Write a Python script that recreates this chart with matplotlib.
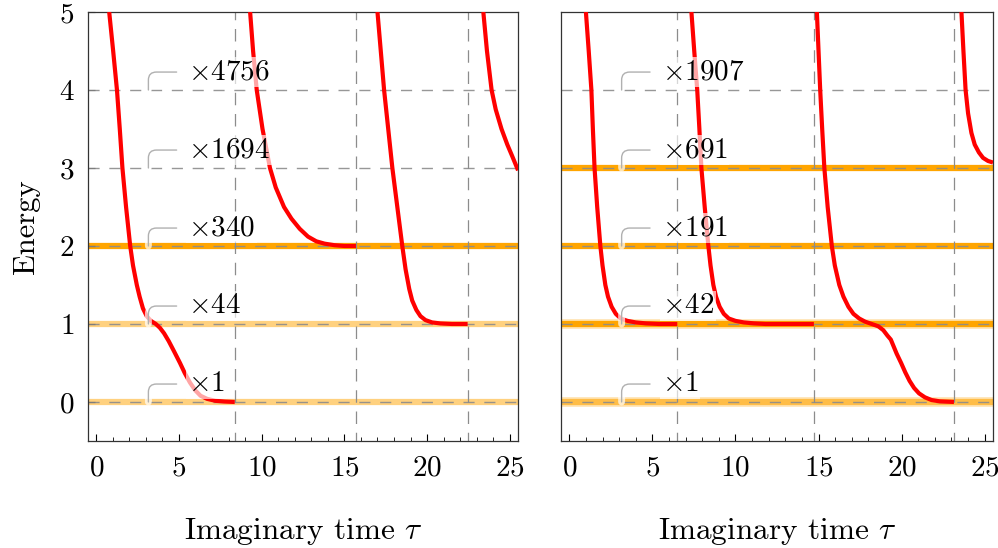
import matplotlib.pyplot as plt
import matplotlib.patheffects as pe
from matplotlib.ticker import MultipleLocator

plt.rcParams['font.family'] = 'serif'
plt.rcParams['font.serif'] = ['cmr10']
plt.rcParams['mathtext.fontset'] = 'cm'
plt.rcParams['axes.formatter.use_mathtext'] = True
plt.rcParams['font.size'] = 21

# energy levels with their degeneracy labels
levels = [0, 1, 2, 3, 4]
left_counts = [1, 44, 340, 1694, 4756]
right_counts = [1, 42, 191, 691, 1907]

# occupied bands (level, opacity)
left_band_levels = [0, 1, 2]
left_band_alpha = [0.5, 0.5, 1.0]
right_band_levels = [0, 1, 2, 3]
right_band_alpha = [0.6, 1.0, 1.0, 1.0]
right_band_halo = [0, 1]

# restarts in imaginary time
left_restarts = [8.37, 15.7, 22.45]
right_restarts = [6.5, 14.72, 23.15]

# energy vs imaginary time, one list per segment
left_tau = [
    [0.78, 1.02, 1.25, 1.42, 1.58, 1.8, 2.05, 2.22, 2.45, 2.62, 2.82, 3.05, 3.3, 3.6, 3.85, 4.1,
     4.38, 4.7, 5.06, 5.35, 5.66, 5.98, 6.3, 6.7, 7.2, 7.8, 8.37],
    [9.3, 9.48, 9.7, 10.05, 10.5, 10.85, 11.35, 11.8, 12.3, 12.8, 13.3, 13.8, 14.4, 15.0, 15.7],
    [17.0, 17.2, 17.4, 17.65, 17.9, 18.2, 18.5, 18.7, 18.92, 19.1, 19.35, 19.6, 19.9, 20.3, 20.8, 21.5, 22.45],
    [23.4, 23.62, 23.9, 24.15, 24.5, 24.85, 25.15, 25.5],
]
left_E = [
    [5.0, 4.5, 4.0, 3.5, 3.0, 2.5, 2.0, 1.75, 1.5, 1.35, 1.2, 1.1, 1.04, 1.0, 0.95, 0.88,
     0.78, 0.65, 0.5, 0.37, 0.25, 0.15, 0.08, 0.04, 0.015, 0.005, 0.0],
    [5.0, 4.5, 4.0, 3.5, 3.0, 2.75, 2.5, 2.35, 2.22, 2.12, 2.06, 2.03, 2.01, 2.0, 2.0],
    [5.0, 4.5, 4.0, 3.5, 3.0, 2.5, 2.0, 1.7, 1.45, 1.3, 1.18, 1.1, 1.05, 1.02, 1.007, 1.0, 1.0],
    [5.0, 4.5, 4.0, 3.75, 3.5, 3.3, 3.15, 2.97],
]
right_tau = [
    [1.0, 1.17, 1.33, 1.42, 1.52, 1.68, 1.87, 2.0, 2.17, 2.33, 2.55, 2.8, 3.1, 3.5, 4.0, 4.6, 5.4, 6.5],
    [7.35, 7.52, 7.7, 7.83, 7.95, 8.15, 8.37, 8.5, 8.67, 8.83, 9.05, 9.3, 9.6, 10.0, 10.5, 11.1, 11.8, 14.72],
    [14.9, 15.0, 15.1, 15.22, 15.35, 15.55, 15.8, 15.98, 16.25, 16.5, 16.8, 17.1, 17.45, 17.8, 18.2,
     18.6, 18.9, 19.15, 19.35, 19.7, 19.97, 20.22, 20.48, 20.75, 21.05, 21.4, 21.8, 22.3, 23.15],
    [23.6, 23.72, 23.85, 24.0, 24.2, 24.4, 24.65, 24.9, 25.2, 25.5],
]
right_E = [
    [5.0, 4.5, 4.0, 3.5, 3.0, 2.5, 2.0, 1.75, 1.5, 1.35, 1.22, 1.13, 1.07, 1.04, 1.02, 1.008, 1.0, 1.0],
    [5.0, 4.5, 4.0, 3.5, 3.0, 2.5, 2.0, 1.75, 1.5, 1.35, 1.22, 1.13, 1.07, 1.04, 1.02, 1.008, 1.0, 1.0],
    [5.0, 4.5, 4.0, 3.5, 3.0, 2.5, 2.0, 1.75, 1.5, 1.35, 1.22, 1.13, 1.07, 1.03, 1.0,
     0.97, 0.92, 0.85, 0.8, 0.62, 0.5, 0.38, 0.27, 0.18, 0.11, 0.06, 0.025, 0.008, 0.0],
    [5.0, 4.5, 4.0, 3.7, 3.45, 3.3, 3.2, 3.13, 3.09, 3.07],
]

GRAY = '#8c8c8c'
ORANGE = '#ffa500'


def draw_panel(ax, taus, energies, restarts, band_levels, band_alpha, counts, halo=()):
    for lev in halo:
        ax.axhline(lev, color=ORANGE, lw=7, alpha=0.3, zorder=1)
    for lev, a in zip(band_levels, band_alpha):
        ax.axhline(lev, color=ORANGE, lw=4.5, alpha=a, zorder=1)
    for lev in levels:
        ax.axhline(lev, color=GRAY, lw=1.0, alpha=0.9, ls=(0, (8, 7)), zorder=2)
    for t in restarts:
        ax.axvline(t, color=GRAY, lw=0.9, ls=(3, (10, 7)), zorder=2)
    for t, e in zip(taus, energies):
        ax.plot(t, e, color='red', lw=3, zorder=3, solid_capstyle='butt')

    for lev, n in zip(levels, counts):
        ax.annotate(r'$\times$' + str(n), xy=(3.15, lev), xytext=(5.55, lev + 0.23),
                    ha='left', va='center', fontsize=21, zorder=5,
                    bbox=dict(boxstyle='square,pad=0.06', fc='white', ec='none', alpha=0.65),
                    arrowprops=dict(arrowstyle='-', color='#b0b0b0', lw=1.0,
                                    connectionstyle='angle,angleA=0,angleB=90,rad=8',
                                    relpos=(0, 0.5), shrinkA=7, shrinkB=0,
                                    path_effects=[pe.Stroke(linewidth=5, foreground='white', alpha=0.7),
                                                  pe.Normal()]))

    ax.set_xlim(-0.5, 25.5)
    ax.set_ylim(-0.5, 5)
    ax.set_xticks([0, 5, 10, 15, 20, 25])
    ax.xaxis.set_minor_locator(MultipleLocator(1))
    ax.tick_params(axis='x', which='major', direction='in', length=5, width=0.8, top=False, pad=10)
    ax.tick_params(axis='x', which='minor', direction='in', length=3, width=0.6, top=False)
    ax.set_xlabel(r'Imaginary time $\tau$', fontsize=22.5, labelpad=25)
    for s in ax.spines.values():
        s.set_color('#333333')
        s.set_linewidth(0.9)


fig = plt.figure(figsize=(9.98, 5.48), dpi=100)
ax1 = fig.add_axes([0.0882, 0.1953, 0.4309, 0.7828])
ax2 = fig.add_axes([0.5621, 0.1953, 0.4329, 0.7828])

draw_panel(ax1, left_tau, left_E, left_restarts, left_band_levels, left_band_alpha, left_counts)
draw_panel(ax2, right_tau, right_E, right_restarts, right_band_levels, right_band_alpha, right_counts,
           halo=right_band_halo)

ax1.set_yticks([0, 1, 2, 3, 4, 5])
ax1.tick_params(axis='y', direction='in', length=5, width=0.8, right=False, pad=10)
ax1.set_ylabel('Energy', fontsize=22, labelpad=13)
ax2.set_yticks([])

fig.savefig('out.png', dpi=100)
